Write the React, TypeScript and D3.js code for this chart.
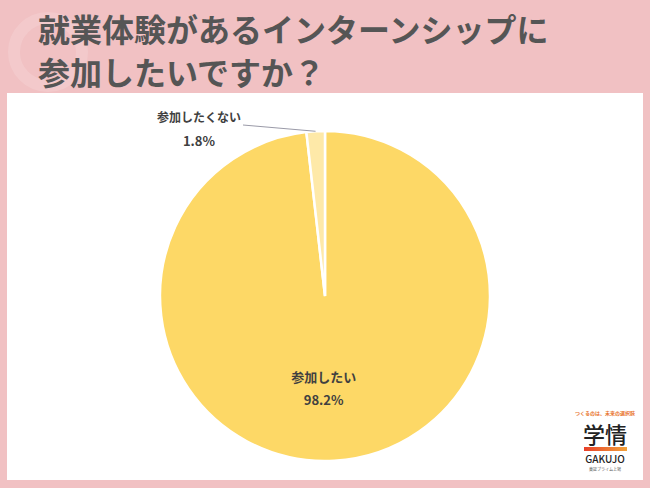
import React from "react";
import * as d3 from "d3";

const categories = ["参加したい", "参加したくない"];
const values = [98.2, 1.8];
const valueLabels = ["98.2%", "1.8%"];
const titleLines = ["就業体験があるインターンシップに", "参加したいですか？"];

const W = 650;
const H = 488;
const FONT = "'Noto Sans CJK JP', 'Noto Sans', sans-serif";

export default function App() {
  const cx = 325;
  const cy = 296;
  const r = 165;
  const pie = d3.pie<number>().sort(null).value((d) => d)(values);
  const arc = d3.arc<d3.PieArcDatum<number>>().innerRadius(0).outerRadius(r);
  const colors = ["#FDD866", "#FEE9A8"];

  const big = pie[0];
  const bigMid = (big.startAngle + big.endAngle) / 2;
  const bigPos = [cx + Math.sin(bigMid) * r * 0.5 - 6, cy - Math.cos(bigMid) * r * 0.5];
  const small = pie[1];
  const smallMid = (small.startAngle + small.endAngle) / 2;
  const sp = [cx + Math.sin(smallMid) * (r + 2), cy - Math.cos(smallMid) * (r + 2)];

  return (
    <svg width={W} height={H} style={{ position: "absolute", left: 0, top: 0 }}>
      <rect x={0} y={0} width={W} height={H} fill="#F1C1C3" />
      <circle cx={48} cy={52} r={34} fill="none" stroke="#ffffff" strokeOpacity={0.14} strokeWidth={12} />
      {titleLines.map((t, i) => (
        <text key={i} x={38} y={42 + i * 43} fontFamily={FONT} fontWeight={700} fontSize={32} fill="#555555">
          {t}
        </text>
      ))}
      <rect x={7} y={93} width={636} height={387} fill="#ffffff" />
      <g transform={`translate(${cx},${cy})`}>
        {pie.map((p, i) => (
          <path key={i} d={arc(p) || ""} fill={colors[i]} stroke="#ffffff" strokeWidth={2.5} />
        ))}
      </g>
      <text x={bigPos[0]} y={bigPos[1] + 4} textAnchor="middle" fontFamily={FONT} fontWeight={700} fontSize={13} fill="#404040">
        {categories[0]}
      </text>
      <text x={bigPos[0]} y={bigPos[1] + 27} textAnchor="middle" fontFamily={FONT} fontWeight={700} fontSize={13} fill="#404040">
        {valueLabels[0]}
      </text>
      <polyline points={`${sp[0]},${sp[1] + 2} ${243},${125}`} fill="none" stroke="#9a9aa8" strokeWidth={1} />
      <text x={199} y={122} textAnchor="middle" fontFamily={FONT} fontWeight={700} fontSize={12} fill="#404040">
        {categories[1]}
      </text>
      <text x={199} y={146} textAnchor="middle" fontFamily={FONT} fontWeight={700} fontSize={13} fill="#404040">
        {valueLabels[1]}
      </text>
      <g fontFamily={FONT}>
        <text x={605} y={415} textAnchor="middle" fontSize={5} fill="#E8742E" fontWeight={700}>つくるのは、未来の選択肢</text>
        <text x={605} y={443} textAnchor="middle" fontSize={22} fill="#222222" fontWeight={500}>学情</text>
        <defs>
          <linearGradient id="lg" x1="0" x2="1">
            <stop offset="0" stopColor="#E8402A" />
            <stop offset="1" stopColor="#F2A33A" />
          </linearGradient>
        </defs>
        <rect x={584} y={447} width={43} height={4} fill="url(#lg)" />
        <text x={605} y={463} textAnchor="middle" fontSize={10} fill="#222222" fontWeight={500}>GAKUJO</text>
        <text x={605} y={471} textAnchor="middle" fontSize={4} fill="#555555">東証プライム上場</text>
      </g>
    </svg>
  );
}
